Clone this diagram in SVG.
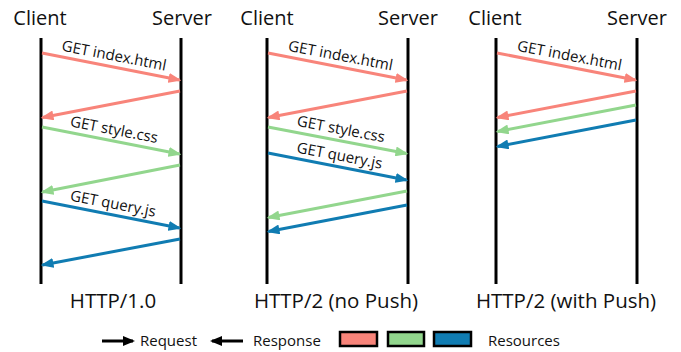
<svg xmlns="http://www.w3.org/2000/svg" width="681" height="352" viewBox="0 0 681 352">
<defs>
<style>
text{font-family:"Open Sans","DejaVu Sans",sans-serif;fill:#111}
.hdr{font-size:20px;text-anchor:middle}
.ttl{font-size:20.5px;text-anchor:middle}
.lbl{font-size:15px;text-anchor:middle}
.leg{font-size:15px}
.life{stroke:#000;stroke-width:3;fill:none}
.r{stroke:#F8847A;stroke-width:3;fill:none;marker-end:url(#mr)}
.g{stroke:#92D68D;stroke-width:3;fill:none;marker-end:url(#mg)}
.b{stroke:#107CB2;stroke-width:3;fill:none;marker-end:url(#mb)}
.k{stroke:#000;stroke-width:3;fill:none;marker-end:url(#mk)}
.box{stroke:#000;stroke-width:2.5}
</style>
<marker id="mr" markerUnits="userSpaceOnUse" markerWidth="13" markerHeight="10" refX="11" refY="5" orient="auto"><path d="M0,0 L13,5 L0,10 z" fill="#F8847A"/></marker>
<marker id="mg" markerUnits="userSpaceOnUse" markerWidth="13" markerHeight="10" refX="11" refY="5" orient="auto"><path d="M0,0 L13,5 L0,10 z" fill="#92D68D"/></marker>
<marker id="mb" markerUnits="userSpaceOnUse" markerWidth="13" markerHeight="10" refX="11" refY="5" orient="auto"><path d="M0,0 L13,5 L0,10 z" fill="#107CB2"/></marker>
<marker id="mk" markerUnits="userSpaceOnUse" markerWidth="12" markerHeight="10" refX="10" refY="5" orient="auto"><path d="M0,0 L12,5 L0,10 z" fill="#000"/></marker>
</defs>
<rect width="681" height="352" fill="#fff"/>

<g id="panel-http1">
<text class="hdr" x="40" y="25">Client</text>
<text class="hdr" x="182" y="25">Server</text>
<line class="life" x1="41" y1="38" x2="41" y2="284"/>
<line class="life" x1="181" y1="38" x2="181" y2="284"/>
<text class="ttl" x="113" y="308">HTTP/1.0</text>
</g>

<g id="panel-http2-nopush">
<text class="hdr" x="267" y="25">Client</text>
<text class="hdr" x="408" y="25">Server</text>
<line class="life" x1="267" y1="38" x2="267" y2="284"/>
<line class="life" x1="408" y1="38" x2="408" y2="284"/>
<text class="ttl" x="336" y="308">HTTP/2 (no Push)</text>
</g>

<g id="panel-http2-push">
<text class="hdr" x="495" y="25">Client</text>
<text class="hdr" x="637" y="25">Server</text>
<line class="life" x1="496" y1="38" x2="496" y2="284"/>
<line class="life" x1="637" y1="38" x2="637" y2="284"/>
<text class="ttl" x="566" y="308">HTTP/2 (with Push)</text>
</g>

<g id="connectors">
<line class="r" x1="42" y1="53" x2="179.5" y2="80"/>
<line class="r" x1="180" y1="91" x2="42.5" y2="117.5"/>
<line class="g" x1="42" y1="127" x2="179.5" y2="154"/>
<line class="g" x1="180" y1="165" x2="42.5" y2="192"/>
<line class="b" x1="42" y1="201" x2="179.5" y2="228"/>
<line class="b" x1="180" y1="239" x2="42.5" y2="265"/>
<line class="r" x1="268" y1="53" x2="406.5" y2="80"/>
<line class="r" x1="407" y1="91" x2="268.5" y2="117.5"/>
<line class="g" x1="268" y1="127" x2="406.5" y2="153.5"/>
<line class="b" x1="268" y1="153" x2="406.5" y2="180"/>
<line class="g" x1="407" y1="191" x2="268.5" y2="217.5"/>
<line class="b" x1="407" y1="205" x2="268.5" y2="231.5"/>
<line class="r" x1="497" y1="53" x2="635.5" y2="80"/>
<line class="r" x1="636" y1="91" x2="497.5" y2="117.5"/>
<line class="g" x1="636" y1="105" x2="497.5" y2="131.5"/>
<line class="b" x1="636" y1="120" x2="497.5" y2="146.5"/>
</g>

<g id="labels">
<text class="lbl" transform="translate(112,66.5) rotate(10.9)" x="0" y="-6">GET index.html</text>
<text class="lbl" transform="translate(112,140.5) rotate(10.9)" x="0" y="-6">GET style.css</text>
<text class="lbl" transform="translate(111,214.5) rotate(10.9)" x="0" y="-6">GET query.js</text>
<text class="lbl" transform="translate(338.5,66.5) rotate(10.8)" x="0" y="-6">GET index.html</text>
<text class="lbl" transform="translate(339,140) rotate(10.7)" x="0" y="-6">GET style.css</text>
<text class="lbl" transform="translate(337.5,166.5) rotate(10.8)" x="0" y="-6">GET query.js</text>
<text class="lbl" transform="translate(567.5,66.5) rotate(10.8)" x="0" y="-6">GET index.html</text>
</g>

<g id="legend">
<line class="k" x1="102" y1="341" x2="133" y2="341"/>
<text class="leg" x="140" y="346">Request</text>
<line class="k" x1="243" y1="341" x2="212" y2="341"/>
<text class="leg" x="253" y="346">Response</text>
<rect class="box" x="340" y="332" width="37" height="14" fill="#F8847A"/>
<rect class="box" x="388" y="332" width="36" height="14" fill="#92D68D"/>
<rect class="box" x="434" y="332" width="37" height="14" fill="#107CB2"/>
<text class="leg" x="488" y="346">Resources</text>
</g>
</svg>
